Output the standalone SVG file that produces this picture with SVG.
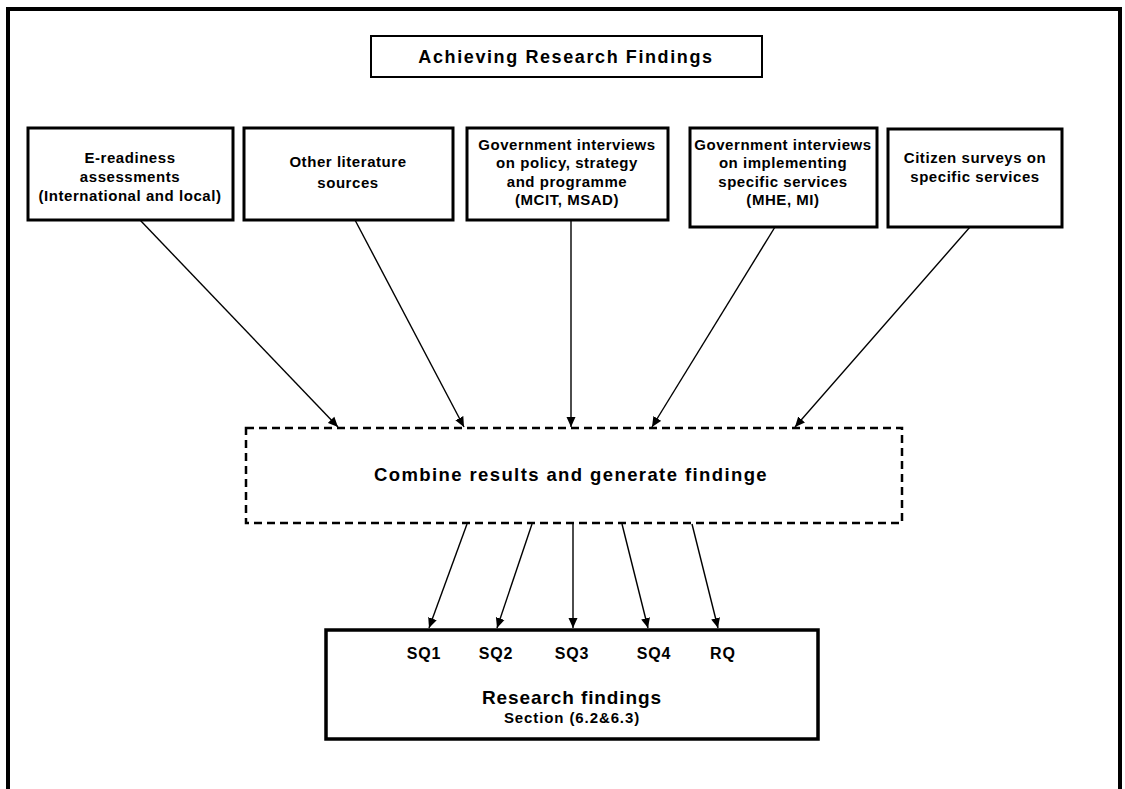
<svg xmlns="http://www.w3.org/2000/svg" width="1125" height="789" viewBox="0 0 1125 789">
<style>
text{font-family:"Liberation Sans",Arial,sans-serif;font-weight:bold;fill:#000;text-anchor:middle}
.src{fill:#fff;stroke:#000;stroke-width:3}
.t{font-size:15px;letter-spacing:0.55px}
.sq{font-size:16px;letter-spacing:0.9px}
.conn line{stroke:#000;stroke-width:1.4;marker-end:url(#ah)}
</style>
<defs>
<marker id="ah" viewBox="0 0 10 10" refX="10" refY="5" markerWidth="10" markerHeight="10" markerUnits="userSpaceOnUse" orient="auto">
<path d="M0,0.5 L10,5 L0,9.5 Z" fill="#000"/>
</marker>
</defs>
<rect width="1125" height="789" fill="#fff"/>
<rect id="frame" x="8" y="9" width="1112" height="800" fill="none" stroke="#000" stroke-width="4"/>

<g id="title">
<rect x="371" y="36" width="391" height="41" fill="#fff" stroke="#000" stroke-width="2"/>
<text x="566" y="63" font-size="18" letter-spacing="1.6">Achieving Research Findings</text>
</g>

<g id="n1">
<rect class="src" x="28" y="128" width="205" height="92"/>
<text class="t" x="130" y="163">E-readiness</text>
<text class="t" x="130" y="182">assessments</text>
<text class="t" x="130" y="201">(International and local)</text>
</g>
<g id="n2">
<rect class="src" x="244" y="128" width="209" height="92"/>
<text class="t" x="348" y="167">Other literature</text>
<text class="t" x="348" y="188">sources</text>
</g>
<g id="n3">
<rect class="src" x="467" y="128" width="201" height="92"/>
<text class="t" x="567" y="150">Government interviews</text>
<text class="t" x="567" y="168">on policy, strategy</text>
<text class="t" x="567" y="187">and programme</text>
<text class="t" x="567" y="205">(MCIT, MSAD)</text>
</g>
<g id="n4">
<rect class="src" x="690" y="128" width="187" height="99"/>
<text class="t" x="783" y="150">Government interviews</text>
<text class="t" x="783" y="168">on implementing</text>
<text class="t" x="783" y="187">specific services</text>
<text class="t" x="783" y="205">(MHE, MI)</text>
</g>
<g id="n5">
<rect class="src" x="888" y="129" width="174" height="98"/>
<text class="t" x="975" y="163">Citizen surveys on</text>
<text class="t" x="975" y="182">specific services</text>
</g>

<g id="combine">
<rect x="246" y="428" width="656" height="95" fill="none" stroke="#000" stroke-width="2.5" stroke-dasharray="8,5"/>
<text x="571" y="481" font-size="18.5" letter-spacing="1.4">Combine results and generate findinge</text>
</g>

<g id="findings">
<rect x="326" y="630" width="492" height="109" fill="#fff" stroke="#000" stroke-width="3.5"/>
<text class="sq" x="424" y="659">SQ1</text>
<text class="sq" x="496" y="659">SQ2</text>
<text class="sq" x="572" y="659">SQ3</text>
<text class="sq" x="654" y="659">SQ4</text>
<text class="sq" x="723" y="659">RQ</text>
<text x="572" y="704" font-size="19" letter-spacing="0.9">Research findings</text>
<text x="572" y="723" font-size="15" letter-spacing="0.9">Section (6.2&amp;6.3)</text>
</g>

<g id="connectors" class="conn">
<line x1="140" y1="220" x2="338" y2="427"/>
<line x1="355" y1="220" x2="464" y2="427"/>
<line x1="571" y1="220" x2="571" y2="427"/>
<line x1="775" y1="227" x2="652" y2="427"/>
<line x1="970" y1="227" x2="795" y2="427"/>
<line x1="467" y1="524" x2="429" y2="628"/>
<line x1="532" y1="524" x2="497" y2="628"/>
<line x1="573" y1="524" x2="573" y2="628"/>
<line x1="622" y1="524" x2="648" y2="628"/>
<line x1="692" y1="524" x2="718" y2="628"/>
</g>
</svg>
